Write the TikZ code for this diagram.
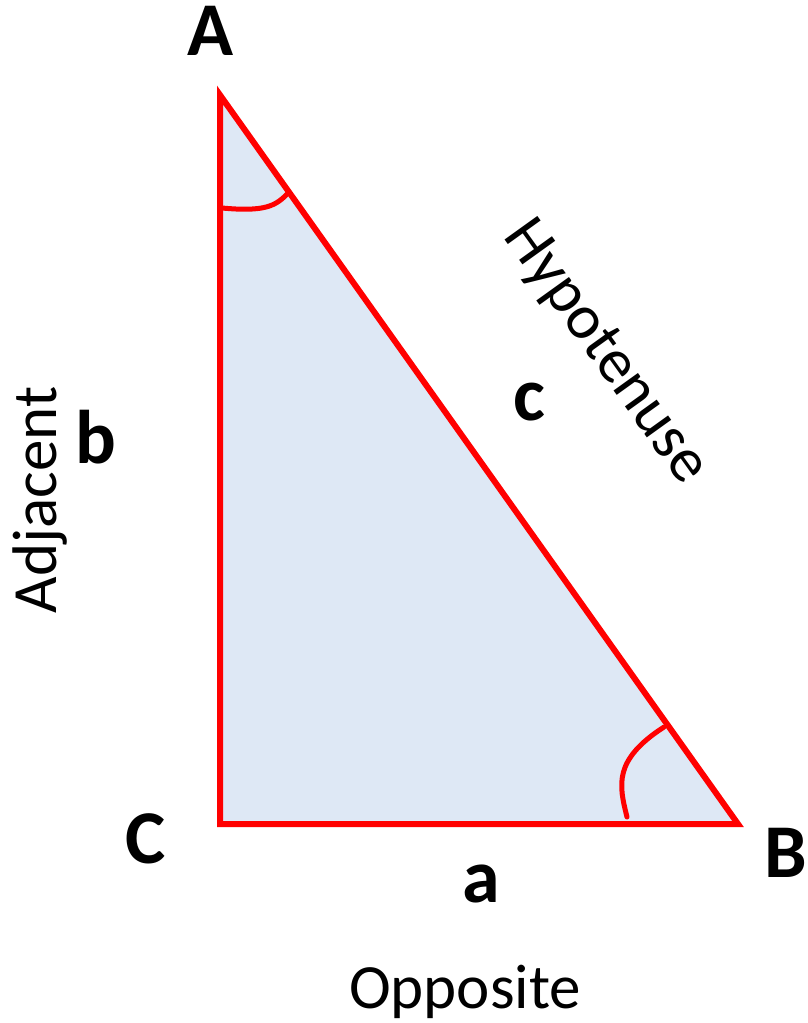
\documentclass[tikz,border=0pt]{standalone}
\usepackage{fontspec}
\setmainfont{Carlito}
\usetikzlibrary{positioning}
\definecolor{cEdge}{RGB}{255,0,0}
\definecolor{cFill}{RGB}{222,232,245}
\tikzset{
	vlabel/.style   ={font=\fontsize{76}{76}\selectfont\bfseries, anchor=base, inner sep=0pt},
	slabel/.style   ={font=\fontsize{76}{76}\selectfont\bfseries, anchor=base, inner sep=0pt},
	sname/.style    ={font=\fontsize{63}{63}\selectfont, inner sep=0pt},
	sideline/.style ={line width=6pt, cEdge},
	anglemark/.style={line width=5pt, cEdge, line cap=round},
}
\begin{document}
\begin{tikzpicture}[x=1pt, y=-1pt]
	\useasboundingbox (0,0) rectangle (808,1023);
	% vertices
	\coordinate (pA) at (220,95);
	\coordinate (pC) at (220,824);
	\coordinate (pB) at (738,824);
	\filldraw[sideline, fill=cFill] (pA) -- (pB) -- (pC) -- cycle;
	% angle marks
	\draw[anglemark] (222,208) .. controls (265,212) and (276,206) .. (288,193);
	\draw[anglemark] (627,817) .. controls (619,785) and (613,760) .. (664,727);
	% vertex and side letters
	\node[vlabel] (lblA) at (211,55) {A};
	\node[vlabel] (lblC) at (146,863) {C};
	\node[vlabel] (lblB) at (786,877) {B};
	\node[slabel] (lbla) at (481,902) {a};
	\node[slabel] (lblb) at (96,463) {b};
	\node[slabel] (lblc) at (529,420) {c};
	% side names
	\node[sname, rotate=90] (adj) at (40,500) {Adjacent};
	\node[sname, rotate=-54.3] (hyp) at (605,353) {Hypotenuse};
	\node[sname, anchor=base] (opp) at (465,1008) {Opposite};
\end{tikzpicture}
\end{document}
